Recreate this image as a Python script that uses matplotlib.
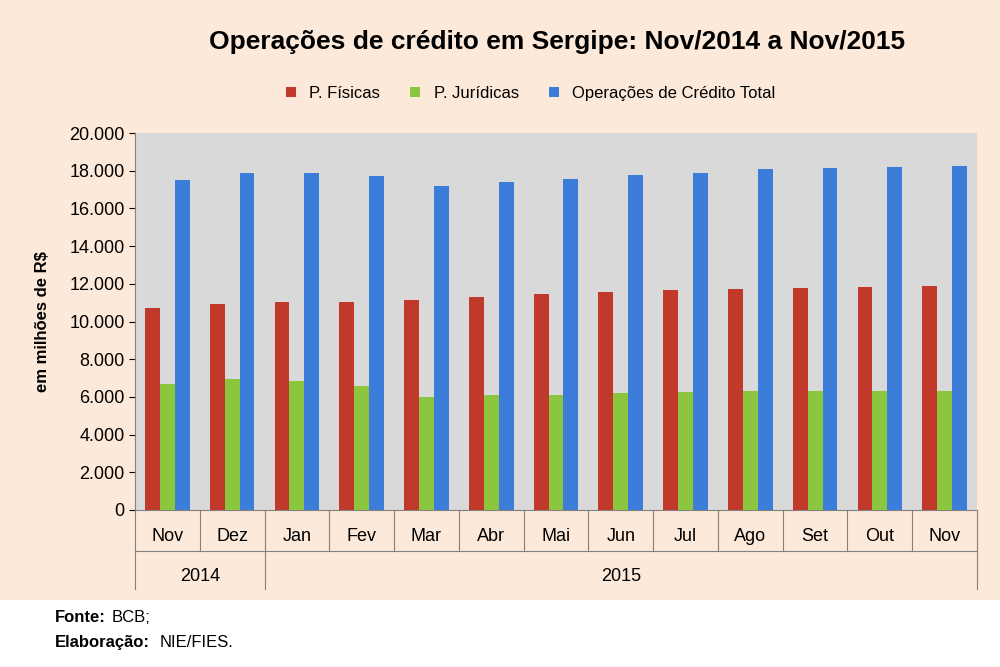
import numpy as np
import matplotlib.pyplot as plt
from matplotlib.ticker import FuncFormatter
from matplotlib.lines import Line2D

plt.rcParams['font.family'] = ['Liberation Sans', 'DejaVu Sans']

meses = ['Nov', 'Dez', 'Jan', 'Fev', 'Mar', 'Abr', 'Mai', 'Jun', 'Jul', 'Ago', 'Set', 'Out', 'Nov']
p_fisicas = [10700, 10950, 11050, 11050, 11150, 11300, 11450, 11550, 11650, 11750, 11800, 11850, 11900]
p_juridicas = [6700, 6950, 6850, 6600, 6000, 6100, 6100, 6200, 6250, 6300, 6300, 6300, 6300]
total = [17500, 17900, 17900, 17700, 17200, 17400, 17550, 17750, 17900, 18100, 18150, 18200, 18250]

fig = plt.figure(figsize=(10, 6.67), dpi=100)
fig.patches.append(plt.Rectangle((0, 1 - 600 / 667), 1, 600 / 667, transform=fig.transFigure,
                                 facecolor='#fde9d9', zorder=-10))
ax = fig.add_axes([0.135, 1 - 510 / 667, 0.842, (510 - 133) / 667])
ax.set_facecolor('#d9d9d9')

x = np.arange(len(meses))
w = 0.23
ax.bar(x - w, p_fisicas, w, color='#c0392b', label='P. Físicas', zorder=3)
ax.bar(x, p_juridicas, w, color='#8cc63f', label='P. Jurídicas', zorder=3)
ax.bar(x + w, total, w, color='#3b7dd8', label='Operações de Crédito Total', zorder=3)

ax.set_xlim(-0.5, len(meses) - 0.5)
ax.set_ylim(0, 20000)
ax.set_yticks(range(0, 20001, 2000))
ax.yaxis.set_major_formatter(FuncFormatter(lambda v, p: f'{int(v):,}'.replace(',', '.')))
ax.tick_params(axis='y', labelsize=13, length=4)
ax.set_xticks([])
for s in ['top', 'right']:
    ax.spines[s].set_visible(False)
ax.spines['left'].set_color('#808080')
ax.spines['bottom'].set_color('#808080')
ax.set_ylabel('em milhões de R$', fontsize=12, fontweight='bold', labelpad=14)

# category axis below plot
tr = ax.get_xaxis_transform()
for i, m in enumerate(meses):
    ax.text(i, -0.07, m, transform=tr, ha='center', va='center', fontsize=13)
for b in np.arange(-0.5, len(meses), 1):
    h = -0.21 if b in (-0.5, 1.5, len(meses) - 0.5) else -0.11
    ax.add_line(Line2D([b, b], [0, h], transform=tr, color='#808080', lw=0.8, clip_on=False))
ax.add_line(Line2D([-0.5, len(meses) - 0.5], [-0.11, -0.11], transform=tr, color='#808080', lw=0.8, clip_on=False))
ax.text(0.5, -0.177, '2014', transform=tr, ha='center', va='center', fontsize=13)
ax.text(7, -0.177, '2015', transform=tr, ha='center', va='center', fontsize=13)

fig.text(0.557, 0.937, 'Operações de crédito em Sergipe: Nov/2014 a Nov/2015', ha='center', va='center',
         fontsize=19, fontweight='bold')
ax.legend(loc='lower center', bbox_to_anchor=(0.47, 1.045), ncol=3, frameon=False, fontsize=12,
          handlelength=0.6, handleheight=0.6, columnspacing=1.8)

fig.text(0.055, 0.067, 'Fonte:', fontsize=12, fontweight='bold')
fig.text(0.112, 0.067, 'BCB;', fontsize=12)
fig.text(0.055, 0.03, 'Elaboração:', fontsize=12, fontweight='bold')
fig.text(0.16, 0.03, 'NIE/FIES.', fontsize=12)

fig.savefig('out.png', dpi=100)
